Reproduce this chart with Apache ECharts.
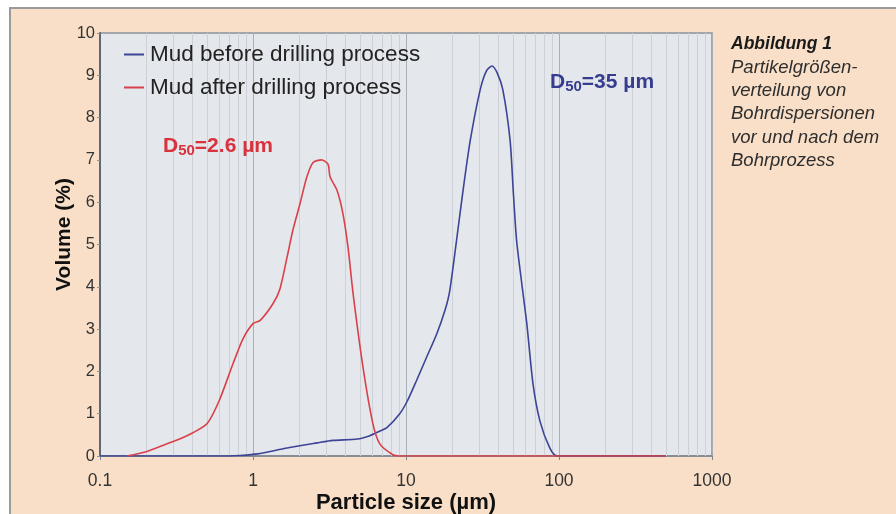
<!DOCTYPE html>
<html>
<head>
<meta charset="utf-8">
<script src="https://cdn.jsdelivr.net/npm/echarts@6/dist/echarts.min.js"></script>
<style>
html,body{margin:0;padding:0;background:#ffffff;}
#c{width:896px;height:514px;}
</style>
</head>
<body>
<div id="c"></div>
<script>
// ---- data (particle size in µm, volume in %) ----
var seriesNames = ['Mud before drilling process', 'Mud after drilling process'];
var beforeX = [0.1, 0.7, 0.82, 1.07, 1.67, 2.62, 3.33, 4.8, 5.8, 6.76, 7.5, 9.1, 10.2, 11.7, 13.5, 15.9, 18.0, 19.3, 21.4, 23.6, 26.3, 30.5, 33.5, 36.5, 39.5, 43, 47.9, 50.2, 52.8, 57, 61.6, 67.6, 75, 87, 97, 500];
var beforeY = [0, 0, 0.01, 0.05, 0.19, 0.31, 0.37, 0.4, 0.48, 0.59, 0.67, 1.0, 1.3, 1.78, 2.3, 2.89, 3.45, 3.9, 5.1, 6.28, 7.46, 8.65, 9.1, 9.22, 9.05, 8.65, 7.46, 6.28, 5.1, 4.1, 3.13, 1.71, 0.83, 0.19, 0, 0];
var afterX = [0.15, 0.2, 0.27, 0.34, 0.405, 0.5, 0.6, 0.74, 0.86, 1.0, 1.11, 1.35, 1.5, 1.67, 1.82, 2.03, 2.25, 2.47, 2.8, 3.09, 3.19, 3.54, 3.87, 4.18, 4.51, 5.24, 6.08, 6.76, 8.2, 9, 500];
var afterY = [0, 0.1, 0.28, 0.42, 0.55, 0.76, 1.3, 2.18, 2.77, 3.13, 3.2, 3.6, 3.95, 4.7, 5.33, 5.97, 6.6, 6.94, 7.0, 6.9, 6.6, 6.28, 5.73, 4.93, 3.84, 2.09, 0.76, 0.28, 0.03, 0, 0];
var xTicks = [0.1, 1, 10, 100, 1000];
var xTickLabels = ['0.1', '1', '10', '100', '1000'];
var d50Before = '35 µm';
var d50After = '2.6 µm';
var captionTitle = 'Abbildung 1';
var captionLines = ['Partikelgrößen-', 'verteilung von', 'Bohrdispersionen', 'vor und nach dem', 'Bohrprozess'];

function pairs(xs, ys){ var r=[]; for(var i=0;i<xs.length;i++) r.push([xs[i], ys[i]]); return r; }
// minor log grid lines (2..9 in each decade)
var minorLines = [];
for (var d = 0; d < xTicks.length - 1; d++) {
  for (var k = 2; k <= 9; k++) minorLines.push({xAxis: +(xTicks[d] * k).toPrecision(3)});
}

var FONT = '"Liberation Sans", Arial, Helvetica, sans-serif';
function d50(text, color, left, top) {
  return {type: 'text', left: left, top: top, z: 10,
    style: {
      text: '{a|D}{s|50}{a|=' + text + '}',
      rich: {
        a: {fontFamily: FONT, fontSize: 21, fontWeight: 'bold', fill: color, lineHeight: 24, verticalAlign: 'middle'},
        s: {fontFamily: FONT, fontSize: 15, fontWeight: 'bold', fill: color, lineHeight: 24, verticalAlign: 'bottom', padding: [9, 0, 0, 0]}
      }
    }};
}
var chart = echarts.init(document.getElementById('c'), null, {renderer: 'canvas'});
chart.setOption({
  animation: false,
  backgroundColor: '#ffffff',
  textStyle: {fontFamily: FONT},
  graphic: [
    {type: 'rect', z: -10, shape: {x: 10, y: 8, width: 900, height: 520},
     style: {fill: '#f9dfc7', stroke: '#9b9b9b', lineWidth: 2}},
    {type: 'text', left: 731, top: 35, z: 10,
     style: {
       text: '{t|' + captionTitle + '}\n' + captionLines.map(function(s){return '{n|' + s + '}';}).join('\n'),
       rich: {
         t: {fontFamily: FONT, fontSize: 17.5, fontStyle: 'italic', fontWeight: 'bold', fill: '#1a1a1a', lineHeight: 23.4},
         n: {fontFamily: FONT, fontSize: 18.5, fontStyle: 'italic', fill: '#2e2e2e', lineHeight: 23.4}
       }
     }},
    d50(d50After, '#d8323c', 163, 134),
    d50(d50Before, '#363c8f', 550, 70)
  ],
  grid: {left: 100, right: 184, top: 33, bottom: 58, show: true, outerBoundsMode: 'none', containLabel: false,
         backgroundColor: '#e4e7eb', borderColor: '#8c939b', borderWidth: 1.5},
  legend: {
    orient: 'vertical', left: 122, top: 41, itemGap: 10, z: 20,
    padding: [2, 2, 2, 2],
    itemWidth: 20, itemHeight: 2, icon: 'rect',
    textStyle: {fontFamily: FONT, fontSize: 22.5, color: '#222222', padding: [0, 0, 0, 1]},
    data: seriesNames
  },
  xAxis: {
    type: 'log', logBase: 10, min: 0.1, max: 1000,
    name: 'Particle size (µm)', nameLocation: 'middle', nameGap: 36, nameMoveOverlap: false,
    nameTextStyle: {fontFamily: FONT, fontSize: 22, fontWeight: 'bold', color: '#111111'},
    axisLine: {onZero: false, lineStyle: {color: '#7e8590', width: 1.5}},
    axisTick: {show: true, length: 4, lineStyle: {color: '#7e8590'}},
    axisLabel: {fontFamily: FONT, fontSize: 17.5, color: '#333333', margin: 16,
      formatter: function(v){ for (var i=0;i<xTicks.length;i++){ if (Math.abs(v-xTicks[i])/xTicks[i] < 1e-6) return xTickLabels[i]; } return ''; }},
    splitLine: {show: true, lineStyle: {color: '#a9afb7', width: 1}}
  },
  yAxis: {
    type: 'value', min: 0, max: 10, interval: 1,
    name: 'Volume (%)', nameLocation: 'middle', nameGap: 25, nameMoveOverlap: false,
    nameTextStyle: {fontFamily: FONT, fontSize: 21, fontWeight: 'bold', color: '#111111', padding: [0, 0, 0, 20]},
    axisLine: {show: true, lineStyle: {color: '#5f6773', width: 2}},
    axisTick: {show: true, length: 3, lineStyle: {color: '#8c939b'}},
    axisLabel: {fontFamily: FONT, fontSize: 16.5, color: '#333333', margin: 5},
    splitLine: {show: false}
  },
  series: [
    {name: '__grid', type: 'line', data: [], z: 1, silent: true,
     markLine: {silent: true, symbol: 'none', label: {show: false}, z: 1,
       lineStyle: {color: '#cdd1d7', width: 1, type: 'solid'}, data: minorLines}},
    {name: seriesNames[0], type: 'line', data: pairs(beforeX, beforeY), showSymbol: false,
     smooth: 0.25, z: 3, color: '#3d4496', lineStyle: {color: '#3d4496', width: 1.6}},
    {name: seriesNames[1], type: 'line', data: pairs(afterX, afterY), showSymbol: false,
     smooth: 0.25, z: 4, color: '#d9404a', lineStyle: {color: '#d9404a', width: 1.6}}
  ]
});
</script>
</body>
</html>
